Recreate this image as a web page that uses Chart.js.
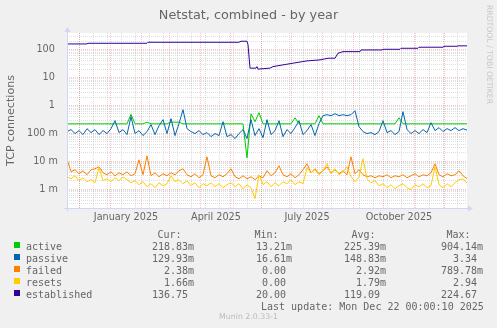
<!DOCTYPE html>
<html>
<head>
<meta charset="utf-8">
<title>Netstat, combined - by year</title>
<script src="https://cdn.jsdelivr.net/npm/chart.js@4.4.1/dist/chart.umd.min.js"></script>
<style>
  body { margin: 0; background: #f0f0f0; }
  #graph { position: relative; width: 497px; height: 328px; overflow: hidden; color: #666; }
  #graph canvas { position: absolute; left: 0; top: 0; }
  .title { position: absolute; left: 0; top: 7px; width: 497px; text-align: center; font: 12.8px/15px "DejaVu Sans"; }
  .brand { position: absolute; left: 485px; top: 5px; writing-mode: vertical-rl; font: 7.7px/8px "DejaVu Sans"; color: #c8c8c8; }
  .leg { position: absolute; font: 10px/12px "DejaVu Sans Mono"; white-space: pre; }
  .box { position: absolute; width: 6px; height: 6px; }
  .munin { position: absolute; left: 0; top: 312px; width: 497px; text-align: center; font: 7.8px/10px "DejaVu Sans"; color: #bbb; }
</style>
</head>
<body>
<div id="graph">
  <canvas id="netstat" width="497" height="328"></canvas>
  <div class="title">Netstat, combined - by year</div>
  <div class="brand">RRDTOOL / TOBI OETIKER</div>
  <div id="legend"></div>
  <div class="leg" style="left:261px;top:300.5px">Last update: Mon Dec 22 00:00:10 2025</div>
  <div class="munin">Munin 2.0.33-1</div>
</div>
<script>
"use strict";
// sample days (0 = 400 days before the last update)
var days = [0,4,8,12,16,20,24,28,32,36,40,44,48,52,56,60,64,68,72,76,
    80,84,88,92,96,100,104,108,112,116,120,124,128,132,136,140,144,148,152,156,
    160,164,168,172,176,180,184,188,192,196,200,204,208,212,216,220,224,228,232,236,
    240,244,248,252,256,260,264,268,272,276,280,284,288,292,296,300,304,308,312,316,
    320,324,328,332,336,340,344,348,352,356,360,364,368,372,376,380,384,388,392,396,400];

var active = [0.2188,0.2188,0.2188,0.2188,0.2188,0.2188,0.2188,0.2188,0.2188,0.2188,
    0.2188,0.2188,0.2188,0.2188,0.2188,0.2188,0.48,0.2188,0.2188,0.2188,
    0.25,0.2188,0.2188,0.2188,0.2188,0.2188,0.25,0.25,0.25,0.2188,
    0.2188,0.2188,0.2188,0.2188,0.2188,0.2188,0.2188,0.2188,0.2188,0.2188,
    0.2188,0.2188,0.2188,0.2188,0.2188,0.0132,0.5,0.26,0.55,0.2188,
    0.2188,0.2188,0.2188,0.2188,0.2188,0.2188,0.2188,0.36,0.2188,0.2188,
    0.2188,0.2188,0.2188,0.43,0.2188,0.2188,0.2188,0.2188,0.2188,0.2188,
    0.2188,0.2188,0.2188,0.2188,0.2188,0.2188,0.2188,0.2188,0.2188,0.2188,
    0.2188,0.2188,0.2188,0.36,0.2188,0.2188,0.2188,0.2188,0.2188,0.2188,
    0.2188,0.2188,0.2188,0.2188,0.2188,0.2188,0.2188,0.2188,0.2188,0.2188,
    0.21883];

var passive = [0.115,0.136,0.098,0.125,0.090,0.147,0.106,0.136,0.090,0.125,
    0.098,0.147,0.284,0.106,0.136,0.090,0.395,0.098,0.125,0.083,
    0.115,0.205,0.090,0.188,0.308,0.098,0.335,0.083,0.222,0.702,
    0.147,0.115,0.098,0.125,0.090,0.106,0.076,0.098,0.083,0.262,
    0.076,0.090,0.065,0.098,0.136,0.065,0.308,0.083,0.147,0.070,
    0.308,0.090,0.125,0.284,0.076,0.136,0.098,0.160,0.284,0.090,
    0.125,0.205,0.083,0.222,0.429,0.465,0.429,0.505,0.429,0.465,
    0.429,0.465,0.647,0.173,0.115,0.098,0.106,0.090,0.115,0.284,
    0.106,0.125,0.090,0.115,0.596,0.136,0.098,0.125,0.098,0.136,
    0.106,0.241,0.125,0.160,0.115,0.147,0.125,0.160,0.125,0.147,
    0.12993];

var failed = [0.0122,0.00418,0.00493,0.00355,0.00454,0.00327,0.00493,0.00535,0.00631,0.00385,
    0.00327,0.00418,0.00301,0.00385,0.00327,0.00418,0.00301,0.00355,0.0112,0.00327,
    0.0156,0.00301,0.00385,0.00277,0.00355,0.00301,0.00385,0.00327,0.00454,0.00535,
    0.00327,0.00277,0.00355,0.00255,0.00327,0.0144,0.00301,0.00255,0.00327,0.00277,
    0.00355,0.00535,0.00277,0.00235,0.00301,0.00235,0.00277,0.00217,0.00301,0.00255,
    0.00454,0.00301,0.00385,0.00685,0.00327,0.00277,0.00355,0.00255,0.00327,0.00493,
    0.00807,0.00385,0.00535,0.00355,0.00454,0.00631,0.00385,0.00493,0.00355,0.00454,
    0.00327,0.0144,0.00355,0.00493,0.00327,0.00277,0.00301,0.00255,0.00301,0.00277,
    0.00327,0.00255,0.00301,0.00277,0.00327,0.00255,0.00301,0.00355,0.00277,0.00327,
    0.00301,0.00385,0.00807,0.00327,0.00277,0.00355,0.00301,0.00327,0.00454,0.00301,
    0.00238];

var resets = [0.00277,0.00235,0.00301,0.00200,0.00255,0.00184,0.00217,0.00169,0.00581,0.00200,
    0.00235,0.00184,0.00255,0.00200,0.00277,0.00217,0.00169,0.00200,0.00144,0.00184,
    0.00122,0.00156,0.00112,0.00169,0.00132,0.00156,0.00301,0.00184,0.00217,0.00156,
    0.00200,0.00132,0.00169,0.00112,0.00156,0.00132,0.00169,0.00122,0.00156,0.00112,
    0.00144,0.00169,0.00122,0.00156,0.00103,0.00144,0.00112,0.00046,0.00327,0.00144,
    0.00184,0.00122,0.00169,0.00132,0.00184,0.00156,0.00217,0.00144,0.00184,0.00156,
    0.00581,0.00385,0.00493,0.00327,0.00454,0.00807,0.00355,0.00535,0.00327,0.00418,
    0.00631,0.00277,0.00184,0.00277,0.0122,0.00235,0.00169,0.00200,0.00132,0.00156,
    0.00112,0.00144,0.00103,0.00132,0.00156,0.00112,0.00095,0.00144,0.00122,0.00156,
    0.00112,0.00132,0.00631,0.00144,0.00112,0.00156,0.00122,0.00169,0.00217,0.00235,
    0.00166];

// established changes in steps, so it gets its own days
var estDays = [0,20,21,80,81,172,174,180,181,183,189,190,191,203,206,216,226,240,253,261,
    268,271,276,293,294,315,316,333,334,351,352,376,377,390,391,400];
var estVals = [160,160,169,169,184,184,200,200,150,21.7,21.7,24.7,20,21.7,24.7,28.4,32.7,39.5,42.9,49.3,
    49.3,74.3,84.8,84.8,97.5,97.5,103,103,112,112,122,122,132,132,136.75,136.75];

var seriesNames = ['active', 'passive', 'failed', 'resets', 'established'];
var seriesColors = ['#00cc00', '#0066b3', '#ff8000', '#ffcc00', '#330099'];
var curVals = ['218.83m', '129.93m', '  2.38m', '  1.66m', '136.75 '];
var minVals = [' 13.21m', ' 16.61m', '  0.00 ', '  0.00 ', ' 20.00 '];
var avgVals = ['225.39m', '148.83m', '  2.92m', '  1.79m', '119.09 '];
var maxVals = ['904.14m', '  3.34 ', '789.78m', '  2.94 ', '224.67 '];

var yTickValues = [0.001, 0.01, 0.1, 1, 10, 100];
var yTickLabels = ['1 m', '10 m', '100 m', '1 ', '10 ', '100 '];
var monthLabelDays = [59, 149, 240, 332];
var monthLabels = ['January 2025', 'April 2025', 'July 2025', 'October 2025'];
var monthStartDays = [12, 43, 74, 102, 133, 163, 194, 224, 255, 286, 316, 347, 377];

var yMin = 0.00021, yMax = 395;

// minor grid: every 2 weeks, and 2..9 inside each decade
var fortnights = [];
for (var d = 12; d < 400; d += 14) fortnights.push(d);
var logMinor = [];
for (var e = -4; e <= 2; e++) {
    for (var m = 2; m <= 9; m++) {
        var v = m * Math.pow(10, e);
        if (v > yMin && v < yMax) logMinor.push(v);
    }
}

// legend rows
var legend = document.getElementById('legend');
function legText(x, y, s) {
    var el = document.createElement('div');
    el.className = 'leg';
    el.style.left = x + 'px';
    el.style.top = y + 'px';
    el.textContent = s;
    legend.appendChild(el);
}
legText(157.5, 228.5, 'Cur:');
legText(254.5, 228.5, 'Min:');
legText(351.5, 228.5, 'Avg:');
legText(446.5, 228.5, 'Max:');
for (var i = 0; i < seriesNames.length; i++) {
    var rowTop = 240.5 + i * 12;
    var box = document.createElement('div');
    box.className = 'box';
    box.style.left = '14px';
    box.style.top = (rowTop + 1.5) + 'px';
    box.style.background = seriesColors[i];
    legend.appendChild(box);
    legText(26, rowTop, seriesNames[i]);
    legText(152, rowTop, curVals[i]);
    legText(250, rowTop, minVals[i]);
    legText(344, rowTop, avgVals[i]);
    legText(441, rowTop, maxVals[i]);
}

function points(xs, ys) {
    return xs.map(function(x, k) { return {x: x, y: ys[k]}; });
}

// white canvas behind the graph, light blue axes with arrows
var rrdFrame = {
    id: 'rrdFrame',
    beforeDraw: function(chart) {
        var ctx = chart.ctx, a = chart.chartArea;
        ctx.save();
        ctx.fillStyle = '#ffffff';
        ctx.fillRect(a.left, a.top, a.right - a.left, a.bottom - a.top);
        ctx.restore();
    },
    afterDraw: function(chart) {
        var ctx = chart.ctx, a = chart.chartArea;
        ctx.save();
        ctx.strokeStyle = '#cfd6f8';
        ctx.fillStyle = '#cfd6f8';
        ctx.lineWidth = 1;
        ctx.beginPath();
        ctx.moveTo(a.left - 3, a.bottom + 0.5);
        ctx.lineTo(a.right + 2, a.bottom + 0.5);
        ctx.moveTo(a.left + 0.5, a.bottom + 3);
        ctx.lineTo(a.left + 0.5, a.top - 2);
        ctx.stroke();
        ctx.beginPath();
        ctx.moveTo(a.right + 6, a.bottom + 0.5);
        ctx.lineTo(a.right + 1, a.bottom - 2.5);
        ctx.lineTo(a.right + 1, a.bottom + 3.5);
        ctx.closePath();
        ctx.moveTo(a.left + 0.5, a.top - 6);
        ctx.lineTo(a.left - 2.5, a.top - 1);
        ctx.lineTo(a.left + 3.5, a.top - 1);
        ctx.closePath();
        ctx.fill();
        ctx.restore();
    }
};

function line(label, color, data, order) {
    return {
        label: label, data: data, borderColor: color, borderWidth: 1,
        pointRadius: 0, fill: false, tension: 0, order: order,
        xAxisID: 'x', yAxisID: 'y'
    };
}

Chart.defaults.font.family = 'DejaVu Sans';
Chart.defaults.color = '#666';

var gridAxis = function(type, pos, ticks, color, z) {
    return {
        type: type, min: type === 'linear' ? 0 : yMin, max: type === 'linear' ? 400 : yMax,
        position: pos,
        afterBuildTicks: function(s) { s.ticks = ticks.map(function(v) { return {value: v}; }); },
        afterFit: function(s) { if (pos === 'top') s.height = 0; else s.width = 0; },
        ticks: { display: false, autoSkip: false },
        grid: { color: color, lineWidth: 1, drawTicks: false, z: z },
        border: { display: false, dash: [1, 1] }
    };
};

var netstat = new Chart(document.getElementById('netstat').getContext('2d'), {
    type: 'line',
    data: {
        datasets: [
            line('established', seriesColors[4], points(estDays, estVals), 1),
            line('resets', seriesColors[3], points(days, resets), 2),
            line('failed', seriesColors[2], points(days, failed), 3),
            line('passive', seriesColors[1], points(days, passive), 4),
            line('active', seriesColors[0], points(days, active), 5)
        ]
    },
    options: {
        responsive: false,
        animation: false,
        events: [],
        layout: { padding: { top: 33, right: 30, bottom: 100, left: 0 } },
        plugins: { legend: { display: false }, tooltip: { enabled: false } },
        scales: {
            x: {
                type: 'linear', min: 0, max: 400, position: 'bottom',
                afterBuildTicks: function(s) { s.ticks = monthLabelDays.map(function(v) { return {value: v}; }); },
                afterFit: function(s) { s.height = 20; },
                grid: { display: false, drawTicks: false },
                border: { display: false },
                ticks: {
                    autoSkip: false, maxRotation: 0, padding: 4, font: { size: 9.7 },
                    callback: function(v, i) { return monthLabels[i]; }
                }
            },
            y: {
                type: 'logarithmic', min: yMin, max: yMax, position: 'left',
                afterBuildTicks: function(s) { s.ticks = yTickValues.map(function(v) { return {value: v}; }); },
                afterFit: function(s) { s.width = 67; },
                grid: { display: false, drawTicks: false },
                border: { display: false },
                ticks: {
                    autoSkip: false, padding: 9, font: { size: 9.7 },
                    callback: function(v, i) { return yTickLabels[i]; }
                },
                title: { display: true, text: 'TCP connections', font: { size: 11.1 }, padding: { top: 4, bottom: 0 } }
            },
            xMinor: gridAxis('linear', 'top', fortnights, 'rgba(150,150,150,0.3)', -1),
            xMajor: gridAxis('linear', 'top', monthStartDays, 'rgba(230,90,90,0.35)', 0),
            yMinor: gridAxis('logarithmic', 'right', logMinor, 'rgba(150,150,150,0.3)', -1),
            yMajor: gridAxis('logarithmic', 'right', yTickValues, 'rgba(230,90,90,0.35)', 0)
        }
    },
    plugins: [rrdFrame]
});
</script>
</body>
</html>
